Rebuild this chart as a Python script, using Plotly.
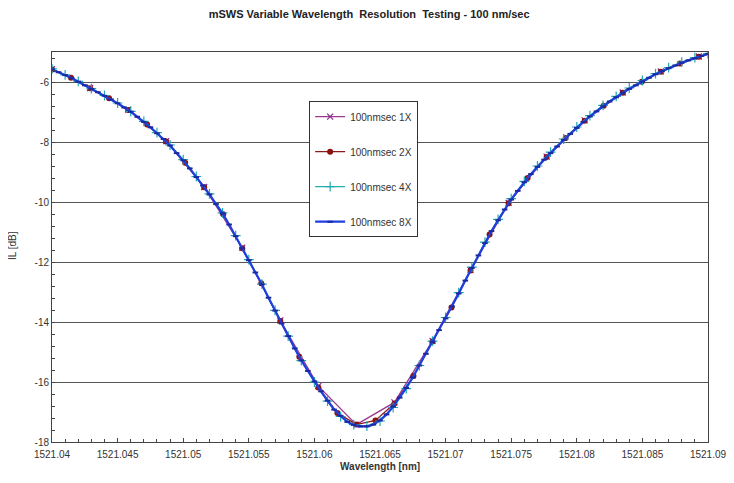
import plotly.graph_objects as go

# ---- data ----
wl_start = 1521.04
step_1x = 0.0029
step_2x = 0.00145
step_4x = 0.001
step_8x = 0.0005

il_1x = [-5.57, -6.20, -6.92, -7.97, -9.50, -11.52, -13.95, -16.14, -17.42,
         -16.68, -14.63, -12.27, -10.03, -8.49, -7.28, -6.35, -5.65, -5.15, -4.85]

il_2x = [-5.58, -5.86, -6.21, -6.54, -6.93, -7.42, -7.98, -8.69, -9.51, -10.41,
         -11.54, -12.71, -13.97, -15.16, -16.18, -17.03, -17.42, -17.28, -16.72,
         -15.80, -14.65, -13.52, -12.28, -11.08, -10.04, -9.20, -8.50, -7.87,
         -7.29, -6.79, -6.36, -5.99, -5.66, -5.38, -5.16, -4.97]

il_4x = [-5.56, -5.76, -5.98, -6.22, -6.45, -6.70, -6.98, -7.31, -7.69, -8.10,
         -8.59, -9.15, -9.73, -10.36, -11.12, -11.92, -12.74, -13.61, -14.47,
         -15.29, -16.00, -16.64, -17.15, -17.42, -17.47, -17.30, -16.85, -16.22,
         -15.45, -14.64, -13.85, -13.02, -12.17, -11.34, -10.58, -9.89, -9.31,
         -8.80, -8.34, -7.90, -7.50, -7.12, -6.78, -6.48, -6.20, -5.95, -5.72,
         -5.52, -5.34, -5.19, -5.05]

il_8x = [-5.58, -5.675, -5.77, -5.87, -5.99, -6.11, -6.23, -6.34, -6.46, -6.58,
         -6.71, -6.85, -6.99, -7.16, -7.33, -7.51, -7.71, -7.90, -8.12, -8.37,
         -8.61, -8.88, -9.17, -9.45, -9.75, -10.07, -10.38, -10.75, -11.14, -11.54,
         -11.94, -12.35, -12.75, -13.19, -13.62, -14.05, -14.47, -14.88, -15.28,
         -15.63, -15.98, -16.31, -16.62, -16.92, -17.13, -17.33, -17.43, -17.48,
         -17.48, -17.42, -17.28, -17.08, -16.82, -16.52, -16.20, -15.85, -15.45,
         -15.06, -14.66, -14.27, -13.88, -13.48, -13.05, -12.62, -12.20, -11.78,
         -11.37, -10.97, -10.61, -10.25, -9.92, -9.63, -9.34, -9.07, -8.83, -8.59,
         -8.37, -8.15, -7.93, -7.73, -7.53, -7.33, -7.15, -6.98, -6.81, -6.65,
         -6.51, -6.36, -6.23, -6.11, -5.98, -5.86, -5.74, -5.64, -5.54, -5.45,
         -5.36, -5.28, -5.21, -5.13, -5.06]

x_tick_vals = [1521.04, 1521.045, 1521.05, 1521.055, 1521.06, 1521.065,
               1521.07, 1521.075, 1521.08, 1521.085, 1521.09]
x_tick_text = ["1521.04", "1521.045", "1521.05", "1521.055", "1521.06", "1521.065",
               "1521.07", "1521.075", "1521.08", "1521.085", "1521.09"]
y_tick_vals = [-18, -16, -14, -12, -10, -8, -6]
y_tick_text = ["-18", "-16", "-14", "-12", "-10", "-8", "-6"]

series_names = ["100nmsec 1X", "100nmsec 2X", "100nmsec 4X", "100nmsec 8X"]


def grid(step, n):
    return [wl_start + step * i for i in range(n)]


fig = go.Figure()

specs = [
    (il_1x, step_1x, "#9a3a8e", dict(symbol="x-thin", size=6, line=dict(width=1.2, color="#8a2a8e")), 1.3),
    (il_2x, step_2x, "#8b1a1a", dict(symbol="circle", size=6, color="#8b1010"), 1.3),
    (il_4x, step_4x, "#20b0b0", dict(symbol="cross-thin", size=7, line=dict(width=1.2, color="#20a8b0")), 1.3),
    (il_8x, step_8x, "#1f3fe0", dict(symbol="line-ew", size=4, line=dict(width=2, color="#1a2aa0")), 2.2),
]

for k, (vals, step, col, mk, lw) in enumerate(specs):
    fig.add_trace(go.Scatter(
        x=grid(step, len(vals)), y=vals, mode="lines+markers",
        name=series_names[k], legendgroup=series_names[k],
        line=dict(color=col, width=lw), marker=mk,
    ))

# the page body adds 8px offset; margins compensate for it
fig.update_layout(
    width=734, height=483,
    margin=dict(l=44, r=34, t=44, b=49),
    paper_bgcolor="white", plot_bgcolor="white",
    font=dict(family="Liberation Sans, Arial, sans-serif", size=10, color="#333"),
    title=dict(text="<b>mSWS Variable Wavelength  Resolution  Testing - 100 nm/sec</b>",
               x=0.492, xref="container", y=1 - 6 / 483, yref="container",
               xanchor="center", yanchor="middle",
               font=dict(size=11, color="#222")),
    showlegend=True,
    legend=dict(x=0.392, y=0.874, xanchor="left", yanchor="top",
                bordercolor="#333", borderwidth=1, bgcolor="white",
                font=dict(size=10, color="#333"), tracegroupgap=16,
                itemwidth=30),
    annotations=[
        dict(text="IL [dB]", xref="paper", yref="paper", x=-0.061, y=0.505,
             textangle=-90, showarrow=False, font=dict(size=10, color="#333"),
             xanchor="center", yanchor="middle"),
        dict(text="<b>Wavelength [nm]</b>", xref="paper", yref="paper", x=0.5, y=-0.064,
             showarrow=False, font=dict(size=10, color="#333"),
             xanchor="center", yanchor="middle"),
    ],
)

fig.update_xaxes(
    range=[1521.04, 1521.09], tickvals=x_tick_vals, ticktext=x_tick_text,
    showgrid=False, zeroline=False,
    showline=True, linecolor="#444", linewidth=1, mirror=True,
    ticks="inside", ticklen=4, tickcolor="#444", ticklabelstandoff=3,
    minor=dict(dtick=0.001, tick0=1521.04, ticks="inside", ticklen=3, tickcolor="#444", showgrid=False),
    tickfont=dict(size=10, color="#333"),
)
fig.update_yaxes(
    range=[-18, -5], tickvals=y_tick_vals, ticktext=y_tick_text,
    showgrid=True, gridcolor="#555", gridwidth=1, zeroline=False,
    showline=True, linecolor="#444", linewidth=1, mirror=True,
    ticks="",
    minor=dict(dtick=0.4, tick0=-18, ticks="inside", ticklen=3, tickcolor="#444", showgrid=False),
    tickfont=dict(size=10, color="#333"),
)

fig.write_html("out.html")
